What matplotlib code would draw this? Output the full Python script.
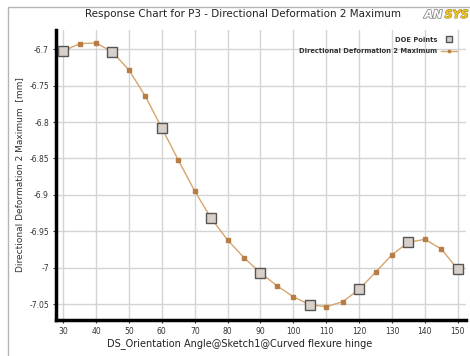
import numpy as np
import matplotlib
matplotlib.use("Agg")
import matplotlib.pyplot as plt
import matplotlib.patheffects as pe
from matplotlib.patches import Rectangle

# response curve sampled every 5 deg
angle = [30, 35, 40, 45, 50, 55, 60, 65, 70, 75, 80, 85, 90, 95, 100,
         105, 110, 115, 120, 125, 130, 135, 140, 145, 150]
deform = [-6.7023, -6.6923, -6.6913, -6.7037, -6.7284, -6.7646, -6.8081,
          -6.8521, -6.8947, -6.9322, -6.9620, -6.9864, -7.0070, -7.0249,
          -7.0400, -7.0510, -7.0537, -7.0468, -7.0298, -7.0064, -6.9822,
          -6.9652, -6.9611, -6.9744, -7.0023]

# design of experiments points
doe_angle = [30, 45, 60, 75, 90, 105, 120, 135, 150]
doe_deform = [-6.7023, -6.7037, -6.8081, -6.9322, -7.0070, -7.0510,
              -7.0298, -6.9652, -7.0023]

xticks = [30, 40, 50, 60, 70, 80, 90, 100, 110, 120, 130, 140, 150]
yticks = [-6.7, -6.75, -6.8, -6.85, -6.9, -6.95, -7.0, -7.05]
ytick_labels = ["-6.7", "-6.75", "-6.8", "-6.85", "-6.9", "-6.95", "-7", "-7.05"]

fig = plt.figure(figsize=(4.7, 3.56), dpi=100)
ax = fig.add_axes([0.119, 0.101, 0.8725, 0.8147])

# outer panel frame
fig.patches.append(Rectangle((8 / 470, -0.1), 1.2, 1 - 7 / 356 + 0.1,
                             transform=fig.transFigure, fill=False,
                             edgecolor="#b4b4b4", linewidth=1.0))

line_col = "#d6a46e"
mark_col = "#b87d45"

resp, = ax.plot(angle, deform, color=line_col, linewidth=1.0, marker="s",
                markersize=3.2, markerfacecolor=mark_col,
                markeredgecolor=mark_col, zorder=3,
                label="Directional Deformation 2 Maximum")
doe, = ax.plot(doe_angle, doe_deform, linestyle="none", marker="s",
               markersize=6.5, markerfacecolor="#d8d0c8",
               markeredgecolor="#555555", markeredgewidth=1.0, zorder=4,
               label="DOE Points")

ax.set_xlim(27.8, 152.5)
ax.set_ylim(-7.072, -6.6735)
ax.set_xticks(xticks)
ax.set_yticks(yticks)
ax.set_yticklabels(ytick_labels)
ax.grid(True, color="#d4d4d4", linewidth=1.0)
ax.set_axisbelow(True)

for side in ["top", "right"]:
    ax.spines[side].set_visible(False)
for side in ["left", "bottom"]:
    ax.spines[side].set_linewidth(2.5)
    ax.spines[side].set_color("black")

ax.tick_params(axis="both", labelsize=5.5, colors="#333333", length=2,
               width=0.8, pad=3)

ax.set_xlabel("DS_Orientation Angle@Sketch1@Curved flexure hinge",
              fontsize=7, color="#222222")
ax.xaxis.set_label_coords(0.449, -0.062)
ax.set_ylabel("Directional Deformation 2 Maximum  [mm]", fontsize=6.5,
              color="#333333")
ax.yaxis.set_label_coords(-0.078, 0.5)

leg = ax.legend(handles=[doe, resp], loc="upper right", markerfirst=False,
                frameon=False, handlelength=2.4, markerscale=0.6,
                borderaxespad=0.6, labelspacing=0.8, handletextpad=0.5,
                bbox_to_anchor=(0.995, 1.0),
                prop={"size": 4.9, "weight": "bold"})
for t in leg.get_texts():
    t.set_color("#333333")
    t.set_horizontalalignment("right")

fig.text(0.517, 0.96, "Response Chart for P3 - Directional Deformation 2 Maximum",
         ha="center", va="center", fontsize=7.5, color="#222222")

# logo in the top right corner
fig.text(0.903, 0.958, "AN", ha="left", va="center", fontsize=8,
         fontweight="bold", style="italic", color="white",
         path_effects=[pe.withStroke(linewidth=1.2, foreground="#8a8a8a")])
fig.text(0.946, 0.958, "SYS", ha="left", va="center", fontsize=8,
         fontweight="bold", style="italic", color="#f2c21b",
         path_effects=[pe.withStroke(linewidth=0.8, foreground="#9a8a40")])

fig.savefig("out.png", dpi=100)
